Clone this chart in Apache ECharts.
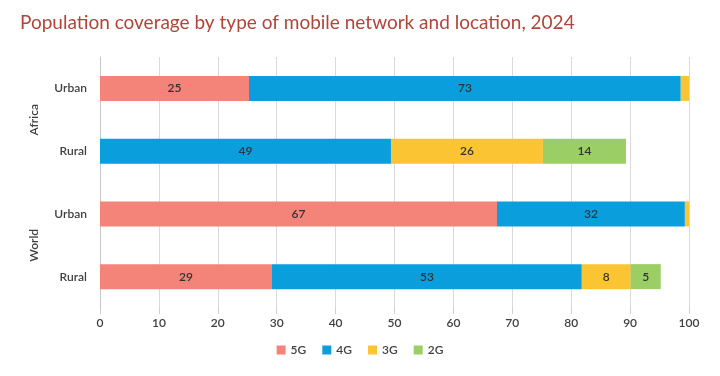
<!DOCTYPE html>
<html>
<head>
<meta charset="utf-8">
<script src="https://cdn.jsdelivr.net/npm/echarts@6/dist/echarts.min.js"></script>
<style>
  html, body { margin: 0; padding: 0; background: #fff; }
  #chart { width: 720px; height: 376px; }
</style>
</head>
<body>
<div id="chart"></div>
<script>
// rows top to bottom
var rows = ["Urban", "Rural", "Urban", "Rural"];
var regions = ["Africa", "World"];
var net5G = [25.3, 0, 67.4, 29.2];
var net4G = [73.3, 49.4, 31.9, 52.6];
var net3G = [1.5, 25.8, 0.9, 8.3];
var net2G = [0, 14.1, 0, 5.1];
var xTicks = [0, 10, 20, 30, 40, 50, 60, 70, 80, 90, 100];

var chartDom = document.getElementById("chart");
var myChart = echarts.init(chartDom);
var font = "Lato, 'Open Sans', sans-serif";

function seg(name, values, color) {
  return {
    name: name,
    type: "bar",
    stack: "total",
    barWidth: 25,
    data: values,
    itemStyle: { color: color },
    label: {
      show: true,
      position: "inside",
      color: "#333",
      fontSize: 12,
      fontWeight: 600,
      fontFamily: font,
      formatter: function (p) {
        return p.value >= 3 ? Math.round(p.value) : "";
      },
    },
  };
}

var option = {
  animation: false,
  title: {
    text: "Population coverage by type of mobile network and location, 2024",
    left: 15,
    top: 8,
    textStyle: {
      color: "#B0453A",
      fontSize: 19,
      fontWeight: "normal",
      fontFamily: font,
    },
  },
  legend: {
    bottom: 15,
    left: "center",
    itemWidth: 9,
    itemHeight: 9,
    itemGap: 16,
    icon: "rect",
    textStyle: { color: "#404040", fontSize: 12, fontFamily: font, fontWeight: 600 },
    data: ["5G", "4G", "3G", "2G"],
  },
  grid: {
    left: 100,
    right: 31,
    top: 57,
    bottom: 68,
  },
  xAxis: {
    type: "value",
    min: xTicks[0],
    max: xTicks[xTicks.length - 1],
    interval: 10,
    axisLine: { show: false },
    axisTick: { show: true, length: 6, lineStyle: { color: "#d0d0d0" } },
    splitLine: { lineStyle: { color: "#d9d9d9" } },
    axisLabel: { color: "#404040", fontSize: 12, fontFamily: font, margin: 9, fontWeight: 600 },
  },
  yAxis: [
    {
      type: "category",
      inverse: true,
      data: rows,
      axisLine: { show: true, lineStyle: { color: "#c8c8c8" } },
      axisTick: { show: false },
      axisLabel: { color: "#404040", fontSize: 12, fontFamily: font, margin: 13, fontWeight: 600 },
    },
    {
      type: "category",
      inverse: true,
      position: "left",
      offset: 60,
      data: regions,
      axisLine: { show: false },
      axisTick: { show: false },
      axisLabel: { color: "#404040", fontSize: 12, fontFamily: font, rotate: 90, margin: 0, fontWeight: 600 },
    },
  ],
  series: [
    seg("5G", net5G, "#F4847A"),
    seg("4G", net4G, "#0A9EDC"),
    seg("3G", net3G, "#FBC433"),
    seg("2G", net2G, "#9BCF65"),
  ],
};

option && myChart.setOption(option);
window.addEventListener("resize", myChart.resize);
</script>
</body>
</html>
